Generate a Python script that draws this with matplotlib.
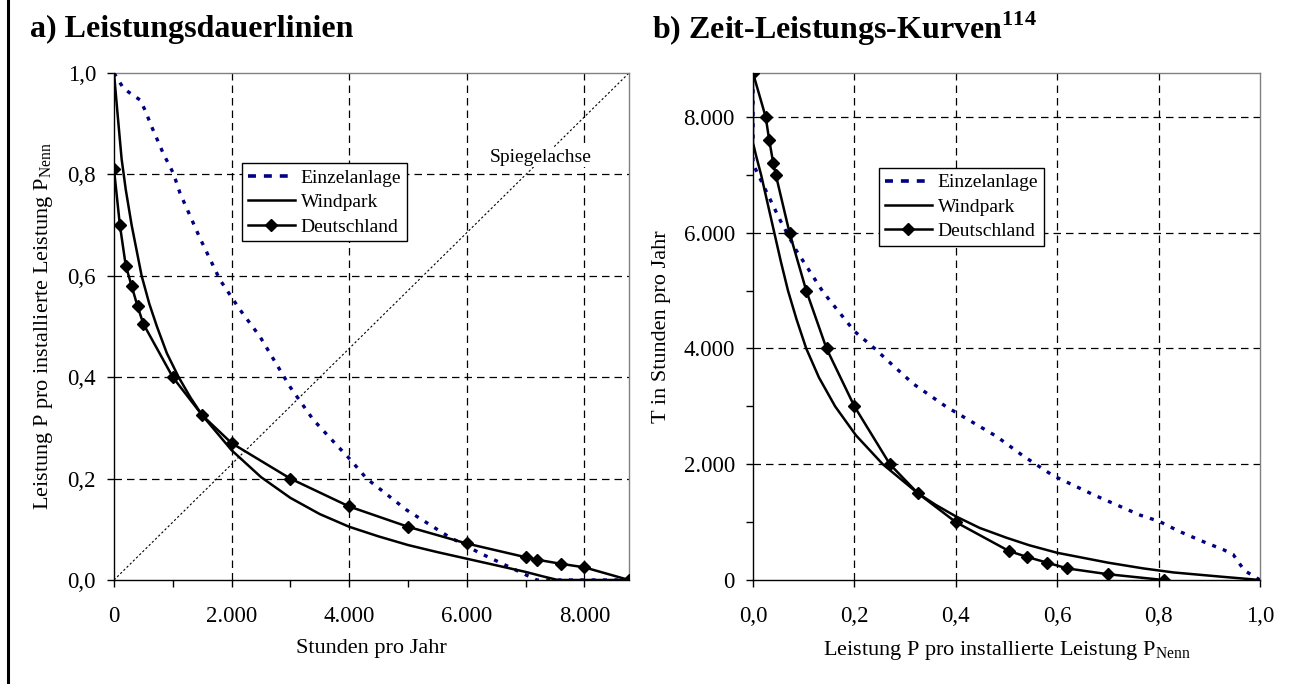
import matplotlib.pyplot as plt
import numpy as np
from matplotlib.lines import Line2D
from matplotlib.ticker import FixedLocator, FuncFormatter

plt.rcParams['font.family'] = 'Liberation Serif'
plt.rcParams['mathtext.fontset'] = 'custom'
plt.rcParams['mathtext.rm'] = 'Liberation Serif'
plt.rcParams['mathtext.bf'] = 'Liberation Serif:bold'

# Stunden pro Jahr / normierte Leistung
ein_h = [0, 80, 160, 300, 442, 527, 641, 839, 1010, 1123, 1463, 1803, 2143, 2483,
         2824, 3000, 3390, 3788, 4000, 4298, 4978, 5700, 6226, 6736, 7190, 8760]
ein_p = [1.0, 0.985, 0.97, 0.958, 0.947, 0.927, 0.894, 0.841, 0.802, 0.763, 0.674,
         0.592, 0.533, 0.48, 0.414, 0.38, 0.316, 0.266, 0.24, 0.20, 0.138, 0.085,
         0.053, 0.025, 0.0, 0.0]

wp_h = [0, 60, 130, 200, 300, 470, 600, 730, 900, 1100, 1300, 1500, 2000, 2500,
        3000, 3500, 4000, 4500, 5000, 5500, 6000, 6500, 7000, 7300, 7550, 8760]
wp_p = [1.0, 0.92, 0.83, 0.77, 0.70, 0.60, 0.545, 0.50, 0.447, 0.40, 0.36, 0.325,
        0.256, 0.203, 0.162, 0.13, 0.105, 0.086, 0.069, 0.055, 0.042, 0.029,
        0.016, 0.007, 0.0, 0.0]

de_h = [0, 100, 200, 300, 400, 500, 1000, 1500, 2000, 3000, 4000, 5000, 6000,
        7000, 7200, 7600, 8000, 8760]
de_p = [0.81, 0.70, 0.62, 0.58, 0.54, 0.505, 0.40, 0.325, 0.27, 0.20, 0.145,
        0.105, 0.072, 0.045, 0.04, 0.032, 0.025, 0.0]

navy = '#000080'
grau = '#808080'

def tausender(v, pos):
    return f'{int(round(v)):,}'.replace(',', '.') if int(round(v)) % 2000 == 0 else ''

def komma(v, pos):
    return f'{v:.1f}'.replace('.', ',')

def achse(ax):
    for s in ['left', 'bottom']:
        ax.spines[s].set_color('black')
        ax.spines[s].set_linewidth(1.0)
    for s in ['top', 'right']:
        ax.spines[s].set_color(grau)
        ax.spines[s].set_linewidth(1.0)
    ax.tick_params(direction='out', length=5, width=1, labelsize=16.5)
    ax.tick_params(axis='x', pad=14)
    ax.tick_params(axis='y', pad=8)

def kurven(ax, x_e, y_e, x_w, y_w, x_d, y_d):
    ax.plot(x_e, y_e, color=navy, lw=2.4, ls=(0, (1.2, 2.2)), zorder=3)
    ax.plot(x_w, y_w, color='black', lw=1.8, zorder=4)
    ax.plot(x_d, y_d, color='black', lw=1.8, marker='D', ms=6.5, zorder=5)

def legende(ax, loc):
    handles = [Line2D([], [], color=navy, lw=2.6, ls=(0, (2.2, 2.2))),
               Line2D([], [], color='black', lw=1.8),
               Line2D([], [], color='black', lw=1.8, marker='D', ms=6.5)]
    leg = ax.legend(handles, ['Einzelanlage', 'Windpark', 'Deutschland'],
                    loc='upper left', bbox_to_anchor=loc, fontsize=14,
                    fancybox=False, framealpha=1, edgecolor='black',
                    handlelength=2.4, handletextpad=0.3, labelspacing=0.35,
                    borderpad=0.3, borderaxespad=0)
    leg.get_frame().set_linewidth(1.0)
    leg.set_zorder(10)

grid_kw = dict(color='black', lw=0.9, ls=(0, (6, 4)), zorder=1)

fig = plt.figure(figsize=(12.97, 6.84), dpi=100)
ax1 = fig.add_axes([114/1297, 104/684, 515/1297, 507/684])
ax2 = fig.add_axes([753/1297, 104/684, 507/1297, 507/684])

# a) Leistungsdauerlinien
achse(ax1)
for v in [2000, 4000, 6000, 8000]:
    ax1.axvline(v, **grid_kw)
for v in [0.2, 0.4, 0.6, 0.8]:
    ax1.axhline(v, **grid_kw)
ax1.plot([0, 8760], [0, 1], color='black', lw=0.8, ls=(0, (2, 2)), zorder=2)
ax1.text(7250, 0.834, 'Spiegelachse', fontsize=14, ha='center', va='center',
         bbox=dict(facecolor='white', edgecolor='none', pad=1), zorder=2.5)
kurven(ax1, ein_h, ein_p, wp_h, wp_p, de_h, de_p)
ax1.set_xlim(0, 8760)
ax1.set_ylim(0, 1)
ax1.xaxis.set_major_locator(FixedLocator(np.arange(0, 8001, 1000)))
ax1.xaxis.set_major_formatter(FuncFormatter(tausender))
ax1.yaxis.set_major_locator(FixedLocator(np.arange(0, 1.01, 0.2)))
ax1.yaxis.set_major_formatter(FuncFormatter(komma))
ax1.set_xlabel('Stunden pro Jahr', fontsize=16, labelpad=8)
ax1.set_ylabel(r'Leistung P pro installierte Leistung P$_{\mathrm{Nenn}}$',
               fontsize=16, labelpad=9)
legende(ax1, (0.249, 0.822))

# b) Zeit-Leistungs-Kurven
achse(ax2)
for v in [0.2, 0.4, 0.6, 0.8]:
    ax2.axvline(v, **grid_kw)
for v in [2000, 4000, 6000, 8000]:
    ax2.axhline(v, **grid_kw)
kurven(ax2, ein_p, ein_h, wp_p, wp_h, de_p, de_h)
ax2.set_xlim(0, 1)
ax2.set_ylim(0, 8760)
ax2.xaxis.set_major_locator(FixedLocator(np.arange(0, 1.01, 0.2)))
ax2.xaxis.set_major_formatter(FuncFormatter(komma))
ax2.yaxis.set_major_locator(FixedLocator(np.arange(0, 8001, 1000)))
ax2.yaxis.set_major_formatter(FuncFormatter(tausender))
ax2.set_xlabel(r'Leistung P pro installierte Leistung P$_{\mathrm{Nenn}}$',
               fontsize=16, labelpad=8)
ax2.set_ylabel('T in Stunden pro Jahr', fontsize=16, labelpad=9)
legende(ax2, (0.249, 0.8126))

fig.text(30/1297, 1 - 29/684, 'a) Leistungsdauerlinien', fontsize=23,
         fontweight='bold', va='center')
fig.text(652/1297, 1 - 29/684, r'b) Zeit-Leistungs-Kurven$^{\mathbf{114}}$',
         fontsize=23, fontweight='bold', va='center')

# Rahmenlinie links
fig.add_artist(Line2D([8/1297, 8/1297], [0, 1], color='black', lw=2.2))

fig.savefig('out.png', dpi=100)
